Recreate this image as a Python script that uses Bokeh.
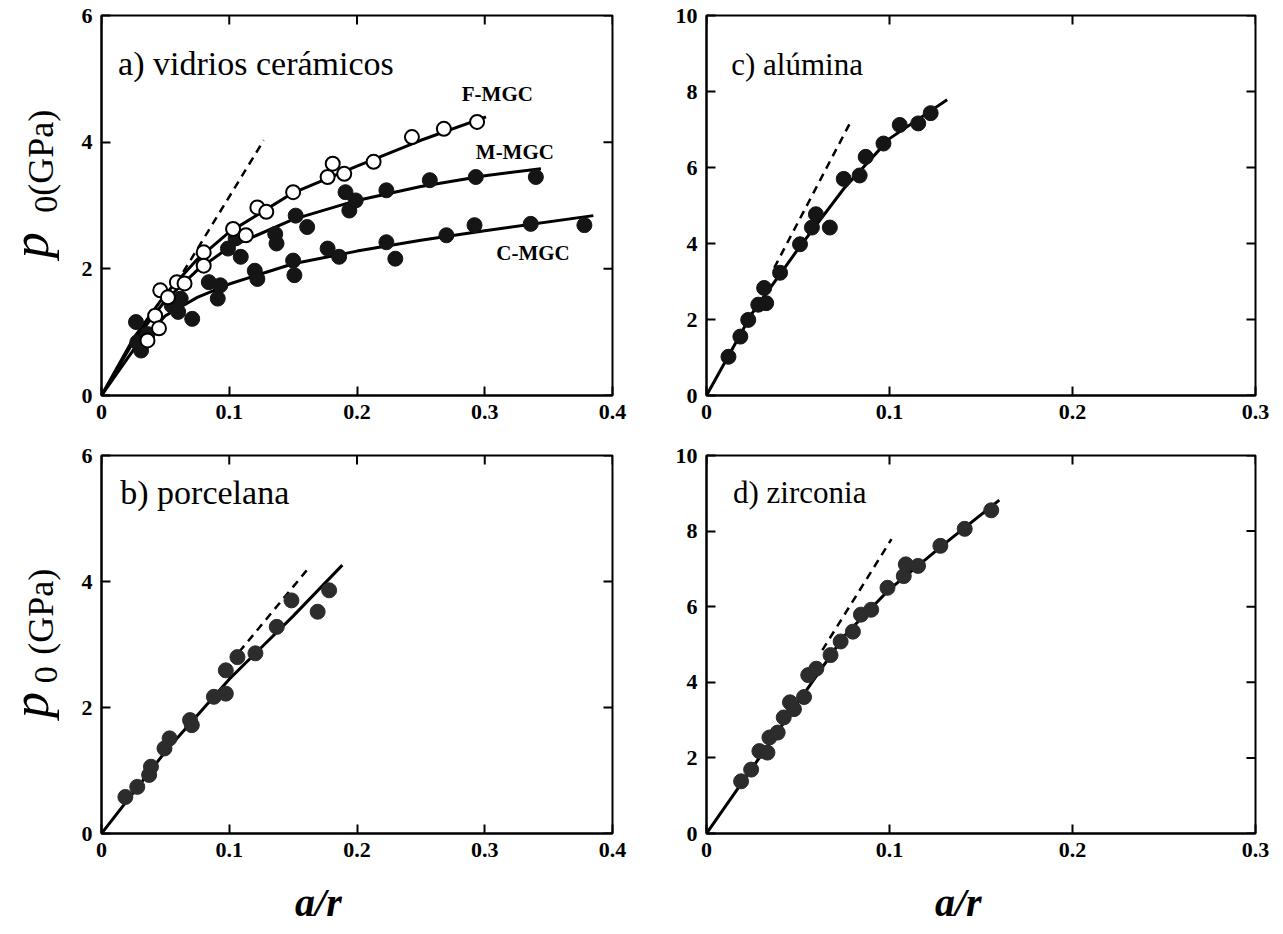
import math
from bokeh.plotting import figure
from bokeh.layouts import gridplot
from bokeh.models import Range1d, LinearAxis, FixedTicker, Label
from bokeh.embed import file_html
from bokeh.resources import INLINE

# ---------------- data ----------------
# a) vidrios cerámicos
f_mgc_x = [0.036, 0.042, 0.045, 0.046, 0.052, 0.059, 0.065, 0.080, 0.080, 0.103, 0.113,
           0.122, 0.129, 0.150, 0.177, 0.181, 0.190, 0.213, 0.243, 0.268, 0.294]
f_mgc_y = [0.87, 1.26, 1.06, 1.66, 1.55, 1.79, 1.77, 2.26, 2.05, 2.63, 2.53,
           2.97, 2.90, 3.21, 3.45, 3.66, 3.50, 3.69, 4.08, 4.21, 4.32]
m_mgc_x = [0.027, 0.028, 0.031, 0.036, 0.055, 0.062, 0.084, 0.093, 0.099, 0.105, 0.109,
           0.136, 0.137, 0.152, 0.161, 0.191, 0.194, 0.199, 0.223, 0.257, 0.293, 0.340]
m_mgc_y = [1.16, 0.84, 0.71, 0.97, 1.42, 1.53, 1.79, 1.74, 2.32, 2.48, 2.19,
           2.55, 2.40, 2.84, 2.66, 3.21, 2.92, 3.08, 3.24, 3.40, 3.45, 3.45]
c_mgc_x = [0.060, 0.071, 0.091, 0.120, 0.122, 0.150, 0.151, 0.177, 0.186, 0.223,
           0.230, 0.270, 0.292, 0.336, 0.378]
c_mgc_y = [1.32, 1.21, 1.53, 1.97, 1.84, 2.13, 1.90, 2.32, 2.19, 2.42,
           2.16, 2.53, 2.69, 2.71, 2.69]
f_fit_x = [0, 0.025, 0.05, 0.075, 0.1, 0.15, 0.2, 0.25, 0.301]
f_fit_y = [0, 0.90, 1.60, 2.15, 2.58, 3.20, 3.62, 4.03, 4.40]
m_fit_x = [0, 0.025, 0.05, 0.075, 0.1, 0.15, 0.2, 0.25, 0.3, 0.344]
m_fit_y = [0, 0.85, 1.50, 1.98, 2.34, 2.78, 3.08, 3.30, 3.47, 3.58]
c_fit_x = [0, 0.025, 0.05, 0.075, 0.1, 0.15, 0.2, 0.25, 0.3, 0.385]
c_fit_y = [0, 0.72, 1.26, 1.55, 1.76, 2.08, 2.28, 2.45, 2.60, 2.84]
a_dash_x = [0.064, 0.127]
a_dash_y = [1.95, 4.03]

# b) porcelana
b_x = [0.0187, 0.028, 0.0373, 0.0387, 0.0493, 0.0533, 0.0693, 0.0707, 0.088, 0.0973,
       0.0973, 0.1064, 0.1205, 0.1372, 0.1487, 0.1692, 0.1782]
b_y = [0.58, 0.74, 0.93, 1.06, 1.35, 1.51, 1.80, 1.72, 2.17, 2.22,
       2.59, 2.80, 2.86, 3.28, 3.70, 3.52, 3.86]
b_fit_x = [0, 0.05, 0.1, 0.15, 0.1885]
b_fit_y = [0, 1.30, 2.45, 3.45, 4.26]
b_dash_x = [0.1077, 0.1628]
b_dash_y = [2.88, 4.23]

# c) alúmina
c_x = [0.0120, 0.0185, 0.0228, 0.0283, 0.0326, 0.0315, 0.0402, 0.0511, 0.0576, 0.0598,
       0.0674, 0.0750, 0.0837, 0.0870, 0.0967, 0.1056, 0.1157, 0.1225]
c_y = [1.02, 1.55, 1.99, 2.39, 2.43, 2.83, 3.23, 3.98, 4.42, 4.77,
       4.42, 5.70, 5.79, 6.28, 6.63, 7.12, 7.16, 7.43]
c_fit_x2 = [0, 0.025, 0.05, 0.075, 0.1, 0.1315]
c_fit_y2 = [0, 2.17, 3.85, 5.44, 6.76, 7.78]
c_dash_x = [0.037, 0.0793]
c_dash_y = [3.36, 7.25]

# d) zirconia
d_x = [0.0189, 0.0244, 0.0289, 0.0333, 0.0344, 0.0389, 0.0422, 0.0456, 0.0478, 0.0533,
       0.0556, 0.0600, 0.0678, 0.0733, 0.0800, 0.0844, 0.0900, 0.0989, 0.1078, 0.1089,
       0.1156, 0.1278, 0.1411, 0.1556]
d_y = [1.38, 1.69, 2.18, 2.14, 2.54, 2.67, 3.07, 3.47, 3.29, 3.61,
       4.19, 4.36, 4.72, 5.08, 5.34, 5.79, 5.92, 6.50, 6.81, 7.12,
       7.08, 7.61, 8.06, 8.55]
d_fit_x = [0, 0.05, 0.075, 0.1, 0.13, 0.16]
d_fit_y = [0, 3.47, 5.21, 6.46, 7.66, 8.82]
d_dash_x = [0.0633, 0.1011]
d_dash_y = [4.85, 7.79]

# ticks and labels
x_ticks_left = [0, 0.1, 0.2, 0.3, 0.4]
x_labels_left = ["0", "0.1", "0.2", "0.3", "0.4"]
x_ticks_right = [0, 0.1, 0.2, 0.3]
x_labels_right = ["0", "0.1", "0.2", "0.3"]
y_ticks_left = [0, 2, 4, 6]
y_labels_left = ["0", "2", "4", "6"]
y_ticks_right = [0, 2, 4, 6, 8, 10]
y_labels_right = ["0", "2", "4", "6", "8", "10"]

SERIF = "Liberation Serif"
DARK = "#151515"
GREY = "#2c2c2c"

# ---------------- layout (px) ----------------
TW = 72                     # column holding the y titles
LFW, RFW = 511, 549         # frame widths (left / right panels)
L_BL, L_BR = 29, 30
R_BL, R_BR = 64, 26
T_BT, T_FH, T_BB = 15, 380, 40
B_BT, B_FH, B_BB = 20, 378, 40
XH = 58                     # row holding the x titles
TICK = 9
MS = 15                     # marker diameter


def style_axis(ax, ticks, labels):
    ax.ticker = FixedTicker(ticks=ticks)
    ax.axis_line_color = "black"
    ax.axis_line_width = 2
    ax.major_tick_in = TICK
    ax.major_tick_out = 0
    ax.major_tick_line_width = 2
    ax.major_tick_line_color = "black"
    ax.minor_tick_line_color = None
    ax.major_label_overrides = {t: s for t, s in zip(ticks, labels)}
    ax.major_label_text_font = SERIF
    ax.major_label_text_font_style = "bold"
    ax.major_label_text_font_size = "22px"
    ax.major_label_text_color = "black"
    ax.major_label_standoff = 9


def make_fig(xmax, ymax, xt, xl, yt, yl, fw, bl, br, bt, fh, bb):
    p = figure(width=bl + fw + br, height=bt + fh + bb,
               x_range=Range1d(0, xmax), y_range=Range1d(0, ymax),
               x_axis_type=None, y_axis_type=None,
               output_backend="svg", toolbar_location=None,
               min_border_left=bl, min_border_right=br,
               min_border_top=bt, min_border_bottom=bb)
    p.xgrid.visible = False
    p.ygrid.visible = False
    p.outline_line_color = "black"
    p.outline_line_width = 2
    p.background_fill_color = "white"
    p.border_fill_color = "white"
    xa = LinearAxis()
    style_axis(xa, xt, xl)
    p.add_layout(xa, "below")
    ya = LinearAxis()
    style_axis(ya, yt, yl)
    p.add_layout(ya, "left")
    # inward ticks on the top and right edges
    dy = TICK * ymax / fh
    dx = TICK * xmax / fw
    p.segment(x0=xt, y0=[ymax] * len(xt), x1=xt, y1=[ymax - dy] * len(xt),
              line_color="black", line_width=2)
    p.segment(x0=[xmax] * len(yt), y0=yt, x1=[xmax - dx] * len(yt), y1=yt,
              line_color="black", line_width=2)
    return p


def text_fig(w, h):
    p = figure(width=w, height=h, x_range=Range1d(0, w), y_range=Range1d(0, h),
               x_axis_type=None, y_axis_type=None,
               output_backend="svg", toolbar_location=None,
               min_border_left=0, min_border_right=0, min_border_top=0, min_border_bottom=0)
    p.xgrid.visible = False
    p.ygrid.visible = False
    p.outline_line_color = None
    p.background_fill_color = "white"
    p.border_fill_color = "white"
    return p


pa = make_fig(0.4, 6, x_ticks_left, x_labels_left, y_ticks_left, y_labels_left,
              LFW, L_BL, L_BR, T_BT, T_FH, T_BB)
pb = make_fig(0.4, 6, x_ticks_left, x_labels_left, y_ticks_left, y_labels_left,
              LFW, L_BL, L_BR, B_BT, B_FH, B_BB)
pc = make_fig(0.3, 10, x_ticks_right, x_labels_right, y_ticks_right, y_labels_right,
              RFW, R_BL, R_BR, T_BT, T_FH, T_BB)
pd = make_fig(0.3, 10, x_ticks_right, x_labels_right, y_ticks_right, y_labels_right,
              RFW, R_BL, R_BR, B_BT, B_FH, B_BB)

DASH = "8 6"

# ---- panel a ----
for fx, fy in [(f_fit_x, f_fit_y), (m_fit_x, m_fit_y), (c_fit_x, c_fit_y)]:
    pa.line(fx, fy, line_color="black", line_width=3)
pa.line(a_dash_x, a_dash_y, line_color="black", line_width=2.5, line_dash=DASH)
pa.scatter(m_mgc_x, m_mgc_y, size=MS, fill_color=DARK, line_color=DARK)
pa.scatter(c_mgc_x, c_mgc_y, size=MS, fill_color=DARK, line_color=DARK)
pa.scatter(f_mgc_x, f_mgc_y, size=MS - 1, fill_color="white", line_color="black", line_width=2)

# ---- panel b ----
pb.line(b_fit_x, b_fit_y, line_color="black", line_width=3)
pb.line(b_dash_x, b_dash_y, line_color="black", line_width=2.5, line_dash=DASH)
pb.scatter(b_x, b_y, size=MS, fill_color=GREY, line_color=GREY)

# ---- panel c ----
pc.line(c_fit_x2, c_fit_y2, line_color="black", line_width=3)
pc.line(c_dash_x, c_dash_y, line_color="black", line_width=2.5, line_dash=DASH)
pc.scatter(c_x, c_y, size=MS, fill_color=DARK, line_color=DARK)

# ---- panel d ----
pd.line(d_fit_x, d_fit_y, line_color="black", line_width=3)
pd.line(d_dash_x, d_dash_y, line_color="black", line_width=2.5, line_dash=DASH)
pd.scatter(d_x, d_y, size=MS, fill_color=GREY, line_color=GREY)


def lab(p, x, y, text, size, style="normal", align="left", baseline="alphabetic", angle=0.0):
    p.add_layout(Label(x=x, y=y, text=text, text_font=SERIF, text_font_size=size,
                       text_font_style=style, text_align=align, text_baseline=baseline,
                       angle=angle, text_color="black"))


# panel titles
lab(pa, 0.013, 5.25, "a) vidrios cerámicos", "34px")
lab(pb, 0.0147, 5.42, "b) porcelana", "34px")
lab(pc, 0.0135, 8.71, "c) alúmina", "31px")
lab(pd, 0.0145, 9.02, "d) zirconia", "31px")

# series labels
lab(pa, 0.282, 4.76, "F-MGC", "21px", "bold", baseline="middle")
lab(pa, 0.293, 3.84, "M-MGC", "21px", "bold", baseline="middle")
lab(pa, 0.309, 2.25, "C-MGC", "21px", "bold", baseline="middle")

# y titles: p0 (GPa), reading upwards (centre-anchored pieces)
R90 = math.pi / 2
ta = text_fig(TW, T_BT + T_FH + T_BB)
tb = text_fig(TW, B_BT + B_FH + B_BB)
for t, (yp, y0, yg) in [(ta, (172, 219, 278)), (tb, (149, 184, 257))]:
    lab(t, 30, yp, "p", "52px", "italic", align="center", baseline="middle", angle=R90)
    lab(t, 45, y0, "0", "34px", align="center", baseline="middle", angle=R90)
    lab(t, 40, yg, "(GPa)", "36px", align="center", baseline="middle", angle=R90)

# x titles
xa = text_fig(L_BL + LFW + L_BR, XH)
xb = text_fig(R_BL + RFW + R_BR, XH)
lab(xa, 242, 29, "a/r", "40px", "bold italic", align="center")
lab(xb, 293, 29, "a/r", "40px", "bold italic", align="center")

grid = gridplot([[ta, pa, pc], [tb, pb, pd], [None, xa, xb]], toolbar_location=None)

open("out.html", "w").write(file_html(grid, INLINE))
